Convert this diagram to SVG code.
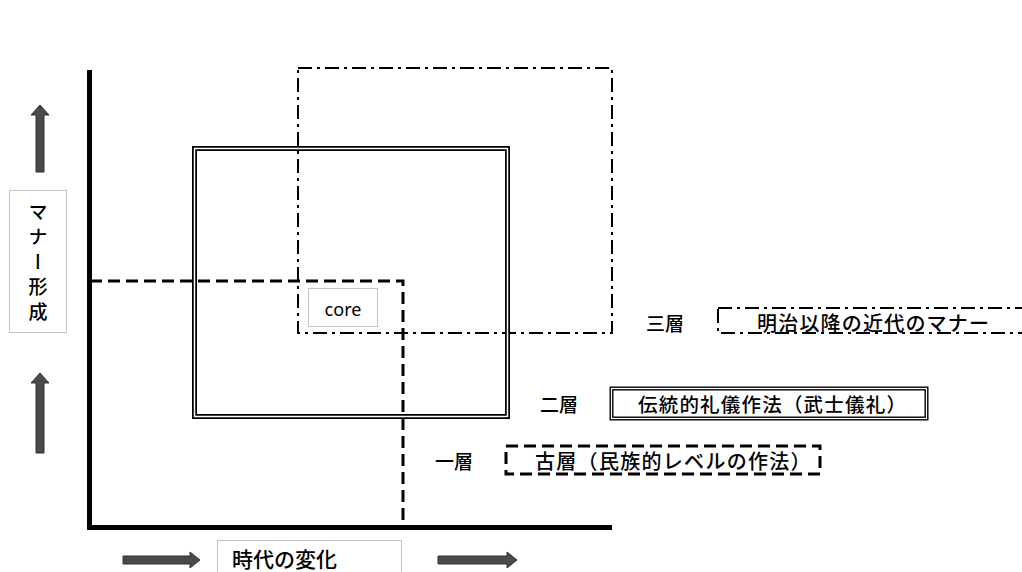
<svg xmlns="http://www.w3.org/2000/svg" width="1022" height="572" viewBox="0 0 1022 572">
<style>
.t{font-family:"Noto Sans CJK JP","Noto Sans",sans-serif;fill:#000;font-weight:500}
.axis{stroke:#000;stroke-width:5;fill:none}
.dotbox{fill:#fff;stroke:#888;stroke-width:1;stroke-dasharray:1 1}
.dashdot{fill:none;stroke:#000;stroke-width:2;stroke-dasharray:14 5 3 5}
.dash{fill:none;stroke:#000;stroke-width:3;stroke-dasharray:12 6}
.arrow{fill:#4a4a4a;stroke:#333;stroke-width:1}
</style>
<rect width="1022" height="572" fill="#fff"/>
<g id="connectors">
<path class="axis" d="M89.5 70 V527.5 H612"/>
<path class="dash" d="M90 281 H403 V525"/>
</g>
<g id="layer3-region">
<rect class="dashdot" x="298" y="68" width="314" height="265"/>
</g>
<g id="layer2-region">
<rect x="194.5" y="148.5" width="313" height="268" fill="none" stroke="#000" stroke-width="5"/>
<rect x="194.5" y="148.5" width="313" height="268" fill="none" stroke="#fff" stroke-width="1.5"/>
</g>
<g id="core">
<rect class="dotbox" x="308.5" y="288.5" width="69" height="38"/>
<text x="343" y="316" font-size="18" text-anchor="middle" font-family="'Noto Sans','Liberation Sans',sans-serif" fill="#000">core</text>
</g>
<g id="y-label">
<path class="arrow" d="M40 105 L49 115 H44 V172 H36 V115 H31 Z"/>
<path class="arrow" d="M40 373 L49 383 H44 V453 H36 V383 H31 Z"/>
<rect class="dotbox" x="9.5" y="190.5" width="57" height="142"/>
<text class="t" x="38" y="202" font-size="19" style="writing-mode:vertical-rl" letter-spacing="6">マナー形成</text>
</g>
<g id="x-label">
<path class="arrow" d="M123 556 H190 V552 L200 560 L190 568 V564 H123 Z"/>
<path class="arrow" d="M438 556 H507 V552 L517 560 L507 568 V564 H438 Z"/>
<rect class="dotbox" x="217.5" y="540.5" width="184" height="40"/>
<text class="t" x="232" y="567" font-size="21">時代の変化</text>
</g>
<g id="layer3">
<text class="t" x="646" y="331" font-size="19">三層</text>
<rect class="dashdot" x="718" y="308" width="320" height="25"/>
<text class="t" x="757" y="331" font-size="20" letter-spacing="1.2">明治以降の近代のマナー</text>
</g>
<g id="layer2">
<text class="t" x="540" y="412" font-size="19">二層</text>
<rect x="611.5" y="388.5" width="315" height="30" fill="#fff" stroke="#000" stroke-width="4"/>
<rect x="611.5" y="388.5" width="315" height="30" fill="none" stroke="#fff" stroke-width="1.2"/>
<text class="t" x="638" y="412" font-size="19.5" letter-spacing="1.2">伝統的礼儀作法（武士儀礼）</text>
</g>
<g id="layer1">
<text class="t" x="435" y="469" font-size="19">一層</text>
<rect class="dash" x="506" y="446" width="314" height="28" stroke-width="2.5" stroke-dasharray="10 5"/>
<text class="t" x="535" y="469" font-size="20" letter-spacing="1.3">古層（民族的レベルの作法）</text>
</g>
</svg>
